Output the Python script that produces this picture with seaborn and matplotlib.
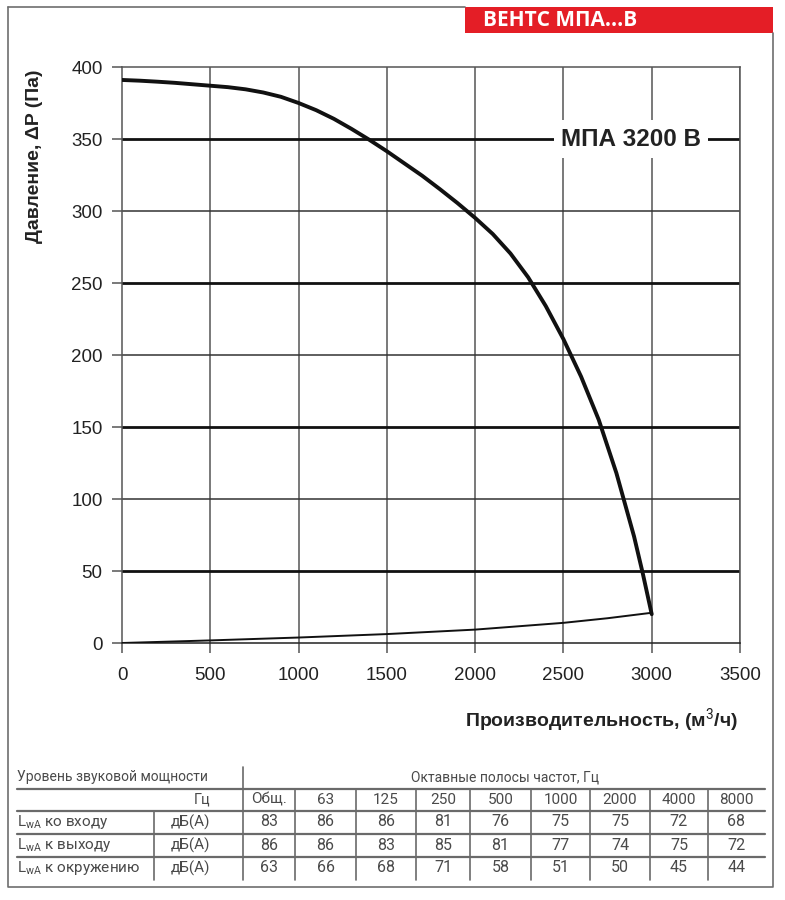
import matplotlib
matplotlib.use("Agg")

import matplotlib.pyplot as plt
import seaborn as sns
import pandas as pd

# fan curve (МПА 3200 В)
flow = [0, 100, 200, 300, 400, 500, 600, 700, 800, 900, 1000, 1100, 1200,
        1300, 1400, 1500, 1600, 1700, 1800, 1900, 2000, 2100, 2200, 2300,
        2400, 2500, 2600, 2700, 2800, 2900, 2950, 3000]
pressure = [391, 390.5, 389.8, 389, 388, 387, 386, 384.5, 382.3, 379.3, 375,
            370, 364, 357, 349.5, 341.5, 333, 324.5, 315.2, 305.5, 295.2, 284,
            270.5, 254, 234, 211, 185, 155, 118, 74, 48, 20]

# network curve
net_flow = [0, 500, 1000, 1500, 2000, 2500, 2750, 3000]
net_pressure = [0, 1.8, 3.8, 6.2, 9.3, 14, 17.2, 21]

y_ticks = [0, 50, 100, 150, 200, 250, 300, 350, 400]
x_ticks = [0, 500, 1000, 1500, 2000, 2500, 3000, 3500]

# sound power table
bands = ["Общ.", "63", "125", "250", "500", "1000", "2000", "4000", "8000"]
row_labels = ["ко входу", "к выходу", "к окружению"]
inlet = [83, 86, 86, 81, 76, 75, 75, 72, 68]
outlet = [86, 86, 83, 85, 81, 77, 74, 75, 72]
surround = [63, 66, 68, 71, 58, 51, 50, 45, 44]

sns.set_theme(style="white")
plt.rcParams["font.family"] = ["Liberation Sans", "DejaVu Sans"]
plt.rcParams["mathtext.fontset"] = "custom"
plt.rcParams["mathtext.rm"] = "Roboto"
plt.rcParams["mathtext.it"] = "Roboto"

W, H = 785, 900
fig = plt.figure(figsize=(W / 100, H / 100), dpi=100)

# overlay in pixel coordinates for frame, banner, table
bg = fig.add_axes([0, 0, 1, 1], zorder=0)
bg.set_xlim(0, W)
bg.set_ylim(H, 0)
bg.axis("off")
bg.patch.set_alpha(0)

frame_c = "#6e6e6e"
bg.plot([8, 8, 773, 773], [7, 887, 887, 33], color=frame_c, lw=1.2)
bg.plot([8, 465], [7, 7], color=frame_c, lw=1.2)
bg.add_patch(plt.Rectangle((465, 7), 308, 26, color="#e41e26", lw=0))
bg.text(483, 21, "ВЕНТС МПА...В", color="white", fontsize=15,
        fontweight="bold", family=["Open Sans", "DejaVu Sans"], va="center", ha="left")

# chart
ax = fig.add_axes([122 / W, 1 - 643 / H, (740 - 122) / W, (643 - 67) / H], zorder=1)
ax.set_xlim(0, 3500)
ax.set_ylim(0, 400)

grid_c = "#555555"
for x in x_ticks[1:]:
    ax.axvline(x, color=grid_c, lw=1.1, zorder=1)
for y in y_ticks[1:-1]:
    thick = y % 100 == 50
    ax.axhline(y, color="#111111" if thick else "#333333",
               lw=2.0 if thick else 1.1, zorder=1)

for s in ax.spines.values():
    s.set_color(grid_c)
    s.set_linewidth(1.1)
ax.spines["bottom"].set_color("#222222")

sns.lineplot(x=net_flow, y=net_pressure, ax=ax, color="#111111", lw=1.4, zorder=3)
sns.lineplot(x=flow, y=pressure, ax=ax, color="#111111", lw=2.8, zorder=4)

ax.set_xticks(x_ticks)
ax.set_yticks(y_ticks)
ax.tick_params(axis="both", direction="out", length=7, width=1.1, color=grid_c,
               labelsize=13.5, labelcolor="#222222", bottom=True, left=True)
ax.tick_params(axis="x", pad=10)
ax.tick_params(axis="y", pad=7)
ax.set_xlabel("")
ax.set_ylabel("")

ax.text(2882, 350, "МПА 3200 В", fontsize=17.5, fontweight="bold", color="#222222",
        ha="center", va="center", zorder=5,
        bbox=dict(facecolor="white", edgecolor="none", pad=5))

fig.text(35 / W, 1 - 156 / H, "Давление, ΔP (Па)", rotation=90, fontsize=14,
         fontweight="bold", color="#222222", ha="center", va="center")
fig.text(738 / W, 1 - 720 / H, "Производительность, (м$^3$/ч)", fontsize=14,
         fontweight="bold", color="#222222", ha="right", va="center")

# table
tc = "#4a4a4a"
tfont = ["Roboto", "DejaVu Sans"]
line_c = "#6a6a6a"
col_edges = [243, 295, 356, 416, 470, 531, 590, 650, 708, 765]
row_lines = [789, 811, 834, 857]
for y in row_lines:
    bg.plot([17, 765], [y, y], color=line_c, lw=1.6)
bg.plot([243, 243], [767, 880], color=line_c, lw=1.2)
bg.plot([154, 154], [811, 880], color=line_c, lw=1.2)
for x in col_edges[1:-1]:
    bg.plot([x, x], [789, 880], color=line_c, lw=1.2)

bg.text(17, 777, "Уровень звуковой мощности", fontsize=10, color=tc,
        family=tfont, va="center", ha="left")
bg.text(505, 777, "Октавные полосы частот, Гц", fontsize=10, color=tc,
        family=tfont, va="center", ha="center")
bg.text(210, 800, "Гц", fontsize=10.5, color=tc, family=tfont, va="center", ha="right")

centers = [(col_edges[i] + col_edges[i + 1]) / 2 for i in range(len(bands))]
for cx, b in zip(centers, bands):
    bg.text(cx, 800, b, fontsize=11, color=tc, family=tfont, va="center", ha="center")

row_y = [822, 845, 868]
table = pd.DataFrame([inlet, outlet, surround], columns=bands, index=row_labels)
for ry, (label, vals) in zip(row_y, table.iterrows()):
    bg.text(17, ry, r"L$_{\rm wA}$ " + label, fontsize=11, color=tc, family=tfont,
            va="center", ha="left")
    bg.text(210, ry, "дБ(А)", fontsize=11, color=tc, family=tfont,
            va="center", ha="right")
    for cx, v in zip(centers, vals):
        bg.text(cx, ry, str(v), fontsize=11.5, color=tc, family=tfont,
                va="center", ha="center")

fig.savefig("out.png", dpi=100)
plt.close(fig)
